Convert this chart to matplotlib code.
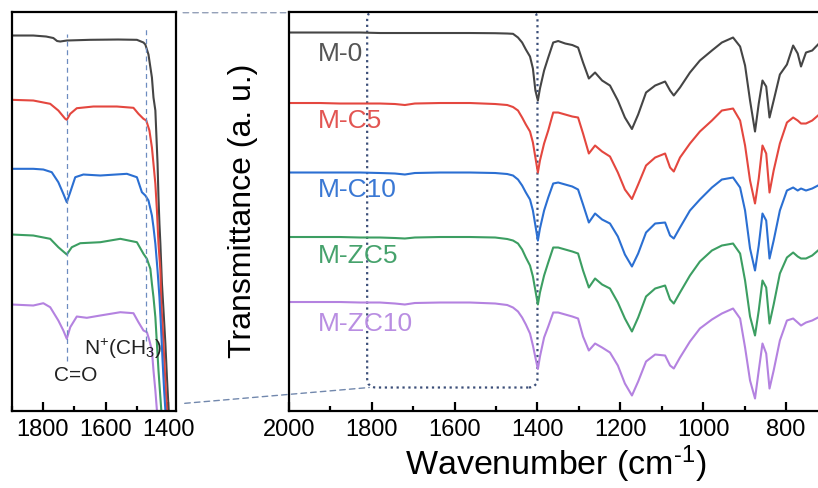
import matplotlib
matplotlib.use("Agg")
import matplotlib.pyplot as plt
from matplotlib.ticker import MultipleLocator
from matplotlib.patches import FancyBboxPatch, ConnectionPatch

plt.rcParams['font.family'] = ['Liberation Sans', 'DejaVu Sans']
plt.rcParams['mathtext.fontset'] = 'custom'
plt.rcParams['mathtext.rm'] = 'Liberation Sans'
plt.rcParams['mathtext.it'] = 'Liberation Sans:italic'
plt.rcParams['mathtext.bf'] = 'Liberation Sans:bold'

# ---------------- data ----------------
samples = ['M-0', 'M-C5', 'M-C10', 'M-ZC5', 'M-ZC10']
colors = ['#454545', '#e4473f', '#2b6fd2', '#3c9e62', '#b482e0']
label_colors = ['#555555', '#e25552', '#3a78d4', '#46a26c', '#b98ee2']

# full range spectra (stacked, a.u.)
wn_full = [2000, 1973, 1925, 1877, 1828, 1780, 1744, 1720, 1696, 1635, 1563, 1502,
           1473, 1459, 1447, 1437, 1428, 1418, 1411, 1405, 1399, 1394, 1384, 1374,
           1362, 1350, 1333, 1316, 1302, 1290, 1276, 1261, 1244, 1225, 1206, 1189,
           1172, 1157, 1138, 1116, 1092, 1080, 1071, 1056, 1032, 1008, 979, 955,
           928, 911, 899, 887, 875, 866, 857, 848, 840, 830, 815, 798, 783, 772,
           764, 752, 737, 723]

t_m0 = [378, 378, 378, 378, 378, 377.5, 377.5, 377.5, 377.5, 377.5, 377.5, 377.3,
        377, 376.7, 373, 368, 361, 354, 342, 320, 310, 322, 340, 353,
        368, 369.5, 367, 365.5, 363, 348, 332, 338, 330, 325, 310, 293,
        281.5, 296, 318, 325, 329, 320, 315, 323, 338, 350, 360, 368,
        373, 364, 345, 310, 279, 307, 330, 324, 293, 310, 336, 346, 365, 357,
        344, 358, 360, 366]

t_mc5 = [307.5, 307.5, 307.5, 307, 307, 307, 306.5, 305.5, 307, 307.5, 307.5, 306.5,
         305.5, 303.5, 300, 293, 286, 279, 268, 253, 238, 250, 267, 280,
         298, 298, 296, 294, 293, 277, 257, 265, 259, 254, 238, 221,
         211.5, 226, 245, 253, 257, 243, 239, 253, 267, 279, 290, 300,
         302, 290, 265, 230, 207, 232, 265, 257, 218, 240, 267, 288, 293, 290,
         287, 287, 290, 295]

t_mc10 = [238, 238, 238, 238, 238, 237.5, 237, 236, 237.5, 238, 238, 237.5,
          236.5, 235, 231, 225, 218, 211, 200, 185, 170, 182, 200, 213,
          227, 228, 226, 224, 221, 206, 188, 197, 191, 187, 174, 156,
          144, 157, 178, 187, 188, 175, 172, 183, 200, 211, 223, 231,
          233, 223, 200, 162, 140, 165, 197, 190, 152, 170, 200, 220, 223, 220,
          222, 220, 222, 225]

t_mzc5 = [173.5, 173.5, 173.5, 173.5, 173, 173, 172.5, 172, 173, 173.5, 173.5, 173,
          171.5, 170, 167, 161, 153, 145, 134, 120, 106, 118, 135, 148,
          163, 163, 161, 159, 157, 140, 123, 132, 126, 122, 108, 92,
          79, 93, 114, 122, 125, 111, 107, 118, 135, 149, 160, 165,
          167, 157, 130, 94, 75, 100, 130, 123, 87, 106, 137, 153, 158, 154,
          152, 152, 155, 160]

t_mzc10 = [108.5, 108.5, 108.5, 108.5, 108, 108, 107, 106, 107.5, 108, 108, 107,
           105.5, 103, 99, 93, 86, 77, 65, 53, 41.5, 54, 73, 84,
           98, 98, 96, 94, 92, 74, 60, 67, 63, 58, 45, 27,
           15, 29, 49, 56, 55, 45, 42, 53, 69, 82, 91, 97,
           102, 92, 63, 30, 12, 40, 67, 57, 22, 40, 70, 90, 92, 88,
           85, 88, 90, 93]

# expanded 1900-1375 region (stacked, a.u.)
wn_m0_zoom = [1900, 1831, 1790, 1767, 1755, 1745, 1724, 1650, 1560, 1500, 1479, 1473, 1463,
              1452, 1447, 1441, 1434, 1431, 1428, 1425, 1420, 1415, 1409, 1404, 1399, 1395]
t_m0_zoom = [375, 375, 374, 372.5, 369.5, 369, 370, 370.7, 371, 370.7, 368, 366, 356,
             333, 313, 300, 247, 213, 187, 167, 127, 100, 67, 33, 3, -20]

wn_mc5_zoom = [1900, 1831, 1777, 1751, 1729, 1724, 1713, 1692, 1639, 1564, 1511, 1495,
               1479, 1470, 1460, 1452, 1447, 1441, 1436, 1431, 1425, 1422, 1417, 1412,
               1407, 1404, 1400]
t_mc5_zoom = [310.7, 310, 306.7, 300, 291.7, 290.7, 296.7, 302.3, 304, 304, 302.7, 296.7,
              291.7, 290, 280, 263, 246.7, 226.7, 200, 166.7, 140, 107, 80, 47,
              17, 0, -20]

wn_mc10_zoom = [1900, 1831, 1799, 1772, 1751, 1735, 1724, 1713, 1697, 1671, 1617, 1532,
                1500, 1484, 1473, 1463, 1452, 1447, 1441, 1434, 1428, 1423, 1418, 1413,
                1409, 1405]
t_mc10_zoom = [241.7, 241.7, 241, 238.3, 228.3, 216.7, 208.3, 218.3, 233.3, 236, 235, 236.7,
               233.3, 218.3, 215, 210, 195, 183.3, 166.7, 140, 113.3, 83.3, 50, 20,
               0, -20]

wn_mzc5_zoom = [1900, 1831, 1777, 1751, 1724, 1708, 1681, 1617, 1553, 1500, 1479, 1468,
                1457, 1452, 1447, 1441, 1436, 1431, 1425, 1422, 1418]
t_mzc5_zoom = [176, 175, 171.7, 163.3, 156, 163.3, 167.3, 168.3, 171.7, 168.3, 156.7, 151.7,
               141.7, 126.7, 113.3, 93.3, 66.7, 40, 13.3, 0, -20]

wn_mzc10_zoom = [1900, 1831, 1799, 1777, 1751, 1735, 1724, 1713, 1692, 1660, 1617, 1553,
                 1511, 1495, 1479, 1468, 1460, 1452, 1447, 1441, 1436, 1432]
t_mzc10_zoom = [106, 105, 107.3, 103.3, 90, 80, 71.7, 83.3, 94, 92.7, 95, 98.3,
                97.3, 88.3, 80, 78.3, 70, 60, 40, 20, 0, -20]

# band markers in the expanded panel
band_co = 1723
band_n = 1472

full_series = [t_m0, t_mc5, t_mc10, t_mzc5, t_mzc10]
zoom_series = [(wn_m0_zoom, t_m0_zoom), (wn_mc5_zoom, t_mc5_zoom),
               (wn_mc10_zoom, t_mc10_zoom), (wn_mzc5_zoom, t_mzc5_zoom),
               (wn_mzc10_zoom, t_mzc10_zoom)]

# ---------------- figure ----------------
fig = plt.figure(figsize=(8.18, 4.88), dpi=100)
ax_l = fig.add_axes([0.0143, 0.1588, 0.2005, 0.8176])
ax_r = fig.add_axes([0.3531, 0.1588, 1 - 0.3531, 0.8176])

for ax in (ax_l, ax_r):
    ax.set_ylim(0, 399)
    ax.set_yticks([])
    for sp in ax.spines.values():
        sp.set_linewidth(1.6)
    ax.xaxis.set_major_locator(MultipleLocator(200))
    ax.xaxis.set_minor_locator(MultipleLocator(100))
    ax.tick_params(axis='x', which='major', direction='in', length=6.5, width=1.6,
                   labelsize=17, pad=6)
    ax.tick_params(axis='x', which='minor', direction='in', length=3.5, width=1.6)

ax_r.spines['right'].set_visible(False)
ax_l.set_xlim(1900, 1376)
ax_r.set_xlim(2000, 723)

# expanded panel
for (w, t), c in zip(zoom_series, colors):
    ax_l.plot(w, t, color=c, lw=1.5)

dash = (0, (4, 3))
ax_l.plot([band_co, band_co], [50, 377], color='#6d8cc0', lw=0.9, ls=dash)
ax_l.plot([band_n, band_n], [70, 382], color='#6d8cc0', lw=0.9, ls=dash)
ax_l.text(1697, 35, 'C=O', fontsize=15, ha='center', va='center', color='#222222')
ax_l.text(1668, 62, r'N$^{+}$(CH$_{3}$)', fontsize=15, ha='left', va='center',
          color='#222222')

# full panel
for t, c in zip(full_series, colors):
    ax_r.plot(wn_full, t, color=c, lw=1.5)

label_y = [357, 290, 221, 155, 87]
for name, y, c in zip(samples, label_y, label_colors):
    ax_r.text(1930, y, name, fontsize=19, color=c, ha='left', va='center')

box = FancyBboxPatch((1400, 23), 411, 377, boxstyle='round,pad=0,rounding_size=22',
                     mutation_aspect=0.414, fill=False, ls=':', lw=1.6,
                     ec='#3b4e78', transform=ax_r.transData)
ax_r.add_patch(box)

top_link = ConnectionPatch(xyA=(1.045, 0.997), coordsA=ax_l.transAxes,
                           xyB=(0.0, 0.997), coordsB=ax_r.transAxes,
                           color='#93a0b8', lw=1.0, ls=(0, (4, 3)))
fig.add_artist(top_link)
bot_link = ConnectionPatch(xyA=(1.055, 0.018), coordsA=ax_l.transAxes,
                           xyB=(1806, 23), coordsB=ax_r.transData,
                           color='#7288ad', lw=1.0, ls=(0, (4, 3)))
fig.add_artist(bot_link)

fig.text(243 / 818, 0.5676, 'Transmittance (a. u.)', rotation=90, fontsize=23,
         ha='center', va='center')
fig.text(556 / 818, 1 - 464 / 488, r'Wavenumber (cm$^{\text{-}1}$)', fontsize=24.5,
         ha='center', va='center')

fig.savefig('out.png', dpi=100)
